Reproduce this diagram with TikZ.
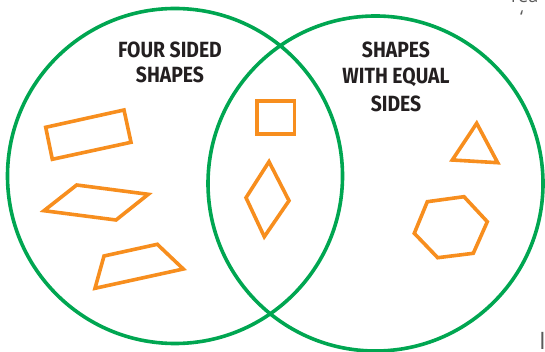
\documentclass[tikz,border=0pt]{standalone}
\usepackage{fontspec}
\newfontfamily\handfont[FakeStretch=0.88]{Fira Sans Bold}
\newfontfamily\fragfont{Open Sans}
\definecolor{venngreen}{RGB}{0,166,81}
\definecolor{shapeorange}{RGB}{247,142,30}
\definecolor{labelink}{RGB}{35,31,32}
\definecolor{fragink}{RGB}{90,90,90}
\tikzset{
  venn/.style={draw=venngreen, line width=3.6pt},
  poly/.style={draw=shapeorange, line width=3.6pt, line join=miter, miter limit=10},
  setlabel/.style={font=\handfont\fontsize{22}{22}\selectfont, text=labelink, inner sep=0pt, anchor=center},
  frag/.style={font=\fragfont\fontsize{18}{18}\selectfont, text=fragink, inner sep=0pt}
}
\begin{document}
\begin{tikzpicture}[x=1pt,y=-1pt]
\useasboundingbox (0,0) rectangle (545,352);
\clip (0,0) rectangle (545,352);
% circles
\node[venn, circle, minimum size=335pt, inner sep=0pt] (left) at (175,176) {};
\node[venn, circle, minimum size=335pt, inner sep=0pt] (right) at (375.5,183.5) {};
% labels
\node[setlabel] (l1) at (170,49.5) {FOUR SIDED};
\node[setlabel] (l2) at (170,75) {SHAPES};
\node[setlabel] (r1) at (396,50) {SHAPES};
\node[setlabel] (r2) at (396,77.5) {WITH EQUAL};
\node[setlabel] (r3) at (396,104) {SIDES};
% four sided shapes
\draw[poly] (45.7,127.3) -- (124,110) -- (131,142.3) -- (52.3,159.3) -- cycle;
\draw[poly] (76.7,185) -- (148.3,194.3) -- (116,220) -- (44,210.7) -- cycle;
\draw[poly] (104,256) -- (157.3,244.3) -- (183.3,269) -- (95,288.3) -- cycle;
% intersection
\draw[poly] (256.7,101) -- (294.3,101) -- (294.3,134.3) -- (256.7,134.3) -- cycle;
\draw[poly] (269,161.7) -- (289,200.7) -- (264.3,236.7) -- (246,197.7) -- cycle;
% equal sided shapes
\draw[poly] (476.7,123.3) -- (497.7,162.7) -- (452.3,160) -- cycle;
\draw[poly] (427.3,201.7) -- (464,196.7) -- (487.3,221.7) -- (473.3,253.3) -- (437.7,257.7) -- (414.3,233.3) -- cycle;
% fragments of neighbouring text, cut off at the edge as in the reference
\node[frag, anchor=base west] (f1) at (511,3) {rea};
\node[frag, anchor=base west] (f2) at (520,24) {‘};
\node[frag, anchor=north west, font=\fragfont\fontsize{24}{24}\selectfont] (f3) at (539,332) {I};
\end{tikzpicture}
\end{document}
